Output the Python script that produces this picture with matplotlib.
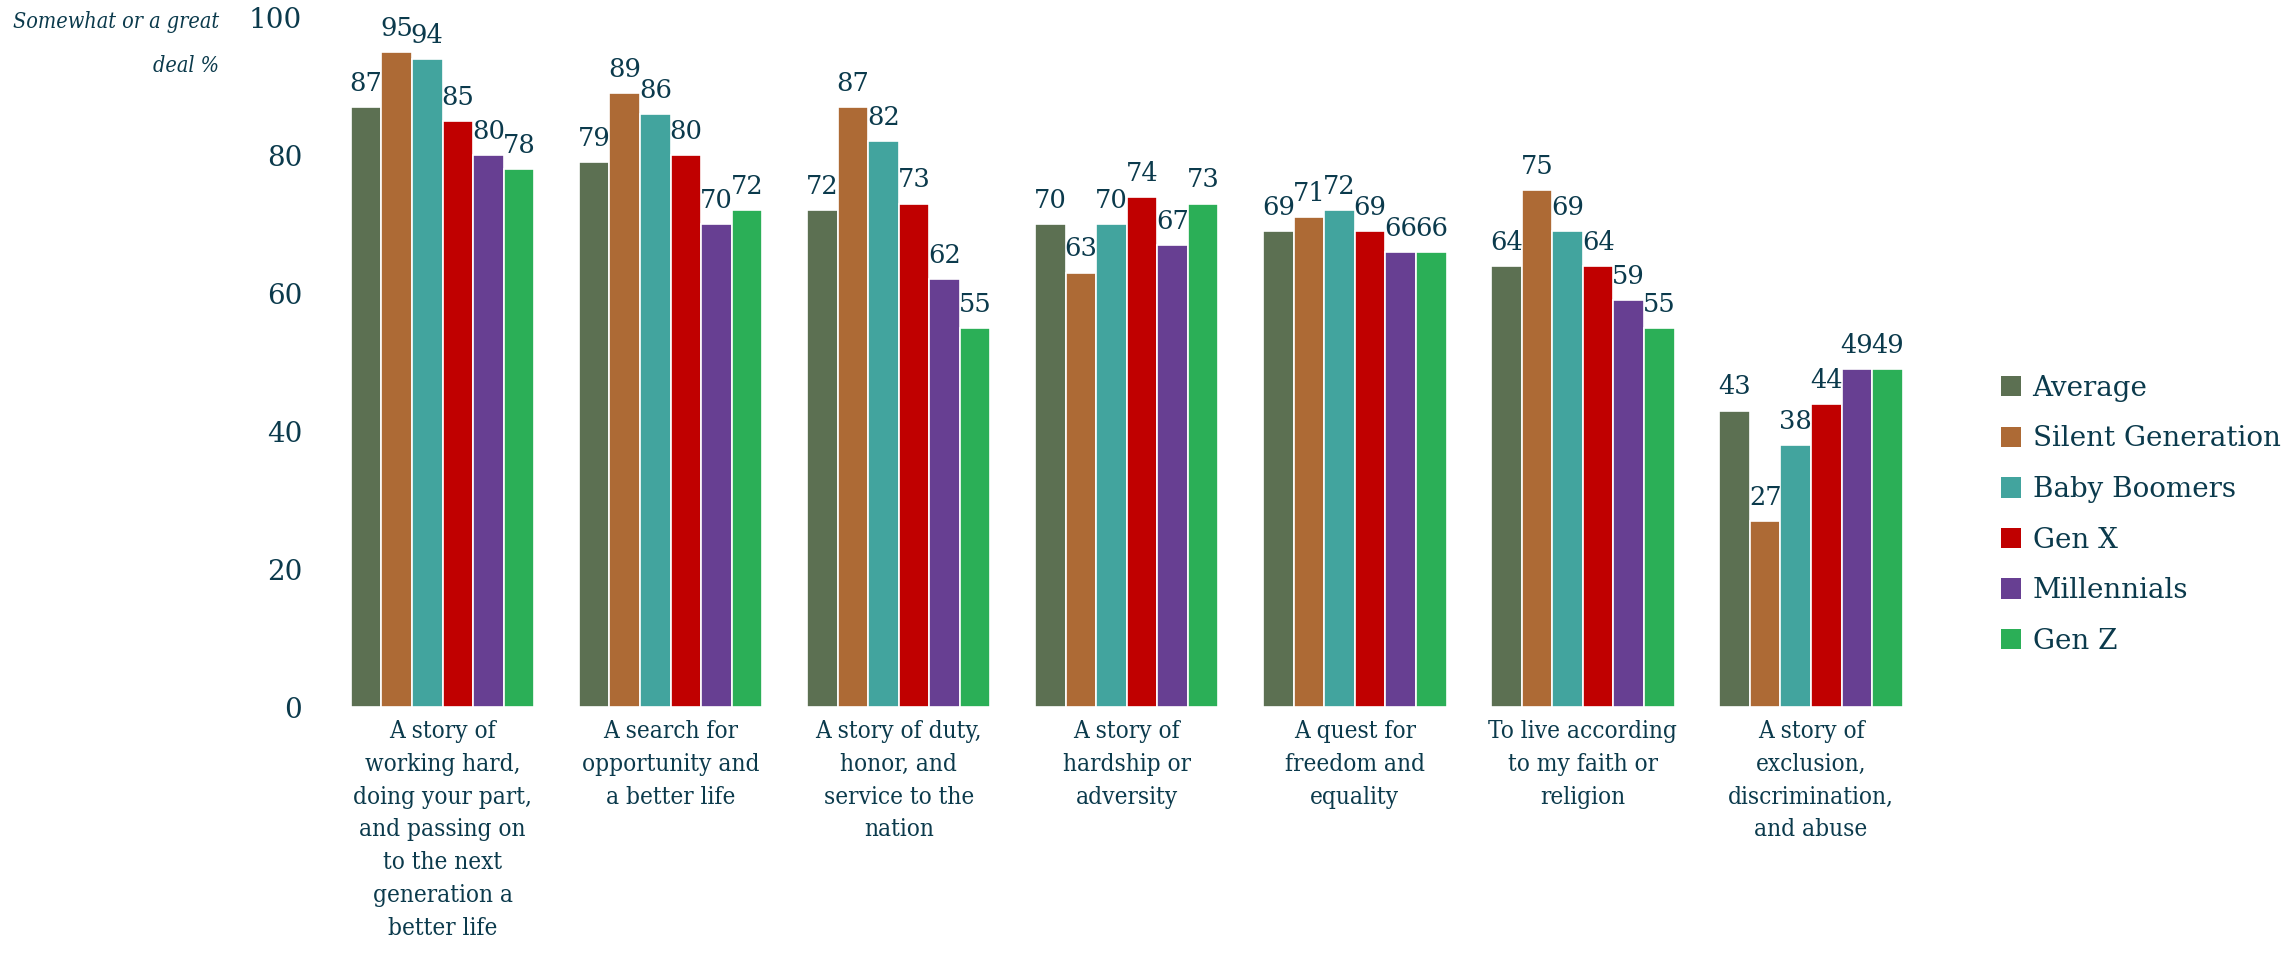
import matplotlib
matplotlib.use("Agg")
import matplotlib.pyplot as plt
from matplotlib.patches import Patch
import numpy as np

categories = [
    "A story of\nworking hard,\ndoing your part,\nand passing on\nto the next\ngeneration a\nbetter life",
    "A search for\nopportunity and\na better life",
    "A story of duty,\nhonor, and\nservice to the\nnation",
    "A story of\nhardship or\nadversity",
    "A quest for\nfreedom and\nequality",
    "To live according\nto my faith or\nreligion",
    "A story of\nexclusion,\ndiscrimination,\nand abuse",
]
series_names = ["Average", "Silent Generation", "Baby Boomers", "Gen X", "Millennials", "Gen Z"]
average = [87, 79, 72, 70, 69, 64, 43]
silent = [95, 89, 87, 63, 71, 75, 27]
boomers = [94, 86, 82, 70, 72, 69, 38]
genx = [85, 80, 73, 74, 69, 64, 44]
millennials = [80, 70, 62, 67, 66, 59, 49]
genz = [78, 72, 55, 73, 66, 55, 49]
yticks = [0, 20, 40, 60, 80, 100]

colors = ["#5C7052", "#AD6A35", "#42A49E", "#C00000", "#673F92", "#2BAF57"]
TXT = "#0b3a4c"
FONT = "DejaVu Serif"

plt.rcParams["font.family"] = [FONT]

fig = plt.figure(figsize=(22.89, 9.57), dpi=100)
ax = fig.add_axes([0.1435, 0.261, 0.6975, 0.721])

data = [average, silent, boomers, genx, millennials, genz]
x = np.arange(len(categories))
w = 0.134
for i, (vals, c) in enumerate(zip(data, colors)):
    pos = x + (i - 2.5) * w
    bars = ax.bar(pos, vals, width=w, color=c, edgecolor="white", linewidth=1.2)
    for b, v in zip(bars, vals):
        ax.annotate(str(v), (b.get_x() + b.get_width() / 2, v), xytext=(0, 8),
                    textcoords="offset points", ha="center", va="bottom",
                    fontsize=18.5, color=TXT, annotation_clip=False)

ax.set_xlim(-0.5, len(categories) - 0.5)
ax.set_ylim(0, 100)
ax.set_yticks(yticks)
ax.set_yticklabels([str(t) for t in yticks], fontsize=20, color=TXT)
ax.set_xticks(x)
ax.set_xticklabels(categories, fontsize=17.5, color=TXT, linespacing=1.55,
                   fontstretch="condensed")
ax.tick_params(axis="both", length=0)
ax.tick_params(axis="y", pad=19)
ax.tick_params(axis="x", pad=9)
for s in ax.spines.values():
    s.set_visible(False)

fig.text(0.0957, 0.988, "Somewhat or a great\ndeal %", ha="right", va="top",
         fontsize=15.5, style="italic", color=TXT, linespacing=2.25,
         fontstretch="condensed")

handles = [Patch(facecolor=c, edgecolor="none") for c in colors]
leg = fig.legend(handles, series_names, loc="center left", bbox_to_anchor=(0.874, 0.462),
                 frameon=False, fontsize=20, handlelength=0.75, handleheight=0.75,
                 handletextpad=0.4, labelspacing=0.85, borderpad=0, borderaxespad=0)
for t in leg.get_texts():
    t.set_color(TXT)

fig.savefig("out.png", dpi=100)
